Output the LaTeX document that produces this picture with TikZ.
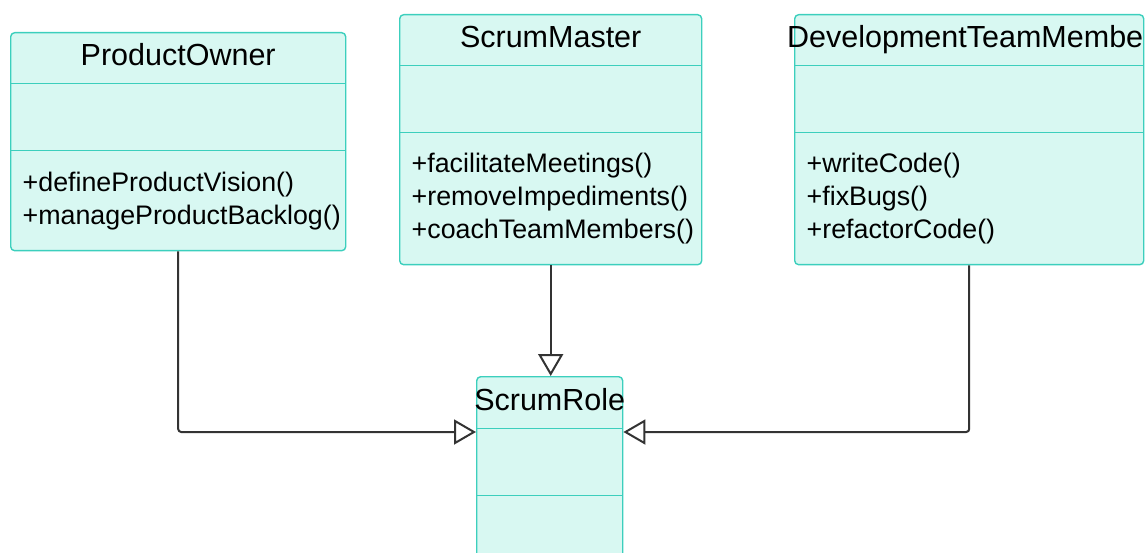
\documentclass[tikz,border=0pt]{standalone}
\usepackage{fontspec}
\setmainfont{Liberation Sans}
\usetikzlibrary{arrows.meta, positioning, calc}
\definecolor{cfill}{HTML}{D8F8F2}
\definecolor{cedge}{HTML}{3CCFBD}
\definecolor{cline}{HTML}{333333}
\tikzset{
  every picture/.style={line width=1.4pt},
  classbox/.style={draw=cedge, fill=cfill, rounded corners=4pt, inner sep=0pt, anchor=north west},
  divider/.style={draw=cedge, line width=1pt},
  classname/.style={font=\fontsize{30.5}{36}\selectfont, inner sep=0pt, anchor=base},
  methods/.style={font=\fontsize{26.8}{33}\selectfont, align=left, inner sep=0pt, anchor=north west},
  inherit/.style={-{Triangle[open, length=22pt, width=25pt]}, draw=cline, line width=2pt, rounded corners=3pt},
}

\begin{document}
\begin{tikzpicture}[x=1pt, y=-1pt]
  \clip (0,0) rectangle (1148,553);

  % class boxes
  \node[classbox, minimum width=335pt, minimum height=218pt] (po) at (10,32) {};
  \node[classbox, minimum width=302pt, minimum height=250pt] (sm) at (399,14) {};
  \node[classbox, minimum width=349pt, minimum height=250pt] (dtm) at (794,14) {};
  \node[classbox, minimum width=146pt, minimum height=220pt] (role) at (476,376) {};

  % compartments
  \foreach \c in {po, sm, dtm, role} {
    \draw[divider] ($(\c.north west)+(0,52)$) -- ($(\c.north east)+(0,52)$);
    \draw[divider] ($(\c.north west)+(0,119)$) -- ($(\c.north east)+(0,119)$);
  }

  % names
  \node[classname] (poname) at ($(po.north)+(0,34)$) {ProductOwner};
  \node[classname] (smname) at ($(sm.north)+(0,34)$) {ScrumMaster};
  \node[classname] (dtmname) at ($(dtm.north)+(-4,34)$) {DevelopmentTeamMembe};
  \node[classname] (rolename) at ($(role.north)+(0,34)$) {ScrumRole};

  % operations
  \node[methods] (poops) at ($(po.north west)+(12,139)$)
    {+defineProductVision()\\+manageProductBacklog()};
  \node[methods] (smops) at ($(sm.north west)+(12,138)$)
    {+facilitateMeetings()\\+removeImpediments()\\+coachTeamMembers()};
  \node[methods] (dtmops) at ($(dtm.north west)+(12,138)$)
    {+writeCode()\\+fixBugs()\\+refactorCode()};

  % generalisation
  \draw[inherit] (po.south) |- ([yshift=-56pt]role.north west);
  \draw[inherit] (sm.south) -- (sm.south |- role.north);
  \draw[inherit] (dtm.south) |- ([yshift=-56pt]role.north east);
\end{tikzpicture}
\end{document}
